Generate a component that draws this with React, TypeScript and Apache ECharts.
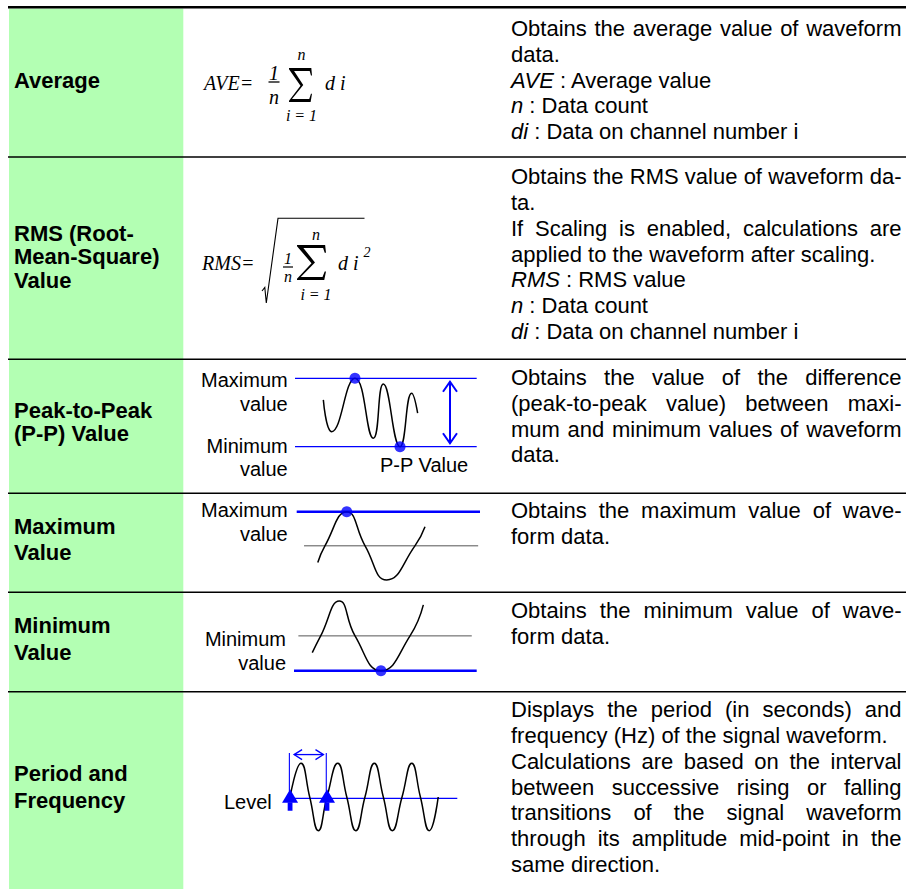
import React, { useEffect, useRef } from 'react';
import * as echarts from 'echarts';

const W = 906;
const H = 889;
const FONT = '"Liberation Sans", Arial, Helvetica, sans-serif';
const SERIF = '"Liberation Serif", "Times New Roman", serif';
const BLUE = '#0000ff';
const GREEN = '#b3ffb3';

// ---------- text content ----------
const rowLabels: string[][] = [
  ['Average'],
  ['RMS (Root-', 'Mean-Square)', 'Value'],
  ['Peak-to-Peak', '(P-P) Value'],
  ['Maximum', 'Value'],
  ['Minimum', 'Value'],
  ['Period and', 'Frequency'],
];

type DLine = { t: string; j?: boolean; it?: string };
const descAverage: DLine[] = [
  { t: 'Obtains the average value of waveform', j: true },
  { t: 'data.' },
  { it: 'AVE', t: ' : Average value' },
  { it: 'n', t: ' : Data count' },
  { it: 'di', t: ' : Data on channel number i' },
];
const descRms: DLine[] = [
  { t: 'Obtains the RMS value of waveform da-', j: true },
  { t: 'ta.' },
  { t: 'If Scaling is enabled, calculations are', j: true },
  { t: 'applied to the waveform after scaling.' },
  { it: 'RMS', t: ' : RMS value' },
  { it: 'n', t: ' : Data count' },
  { it: 'di', t: ' : Data on channel number i' },
];
const descPP: DLine[] = [
  { t: 'Obtains the value of the difference', j: true },
  { t: '(peak-to-peak value) between maxi-', j: true },
  { t: 'mum and minimum values of waveform', j: true },
  { t: 'data.' },
];
const descMax: DLine[] = [
  { t: 'Obtains the maximum value of wave-', j: true },
  { t: 'form data.' },
];
const descMin: DLine[] = [
  { t: 'Obtains the minimum value of wave-', j: true },
  { t: 'form data.' },
];
const descPeriod: DLine[] = [
  { t: 'Displays the period (in seconds) and', j: true },
  { t: 'frequency (Hz) of the signal waveform.' },
  { t: 'Calculations are based on the interval', j: true },
  { t: 'between successive rising or falling', j: true },
  { t: 'transitions of the signal waveform', j: true },
  { t: 'through its amplitude mid-point in the', j: true },
  { t: 'same direction.' },
];
const descriptions = [descAverage, descRms, descPP, descMax, descMin, descPeriod];

// ---------- waveform data (time units 0..10, amplitude units) ----------
const ppWave = [[1.56, 0.37], [2.02, -0.56], [3.3, 1], [4.31, -0.75], [4.86, 0.83], [5.78, -1], [6.42, 0.56], [6.75, -0.02]];
const ppPoints = [[3.3, 1], [5.78, -1]];
const ppLevels = [1, -1];
const ppSpan = [0.9, -0.9];
const ppArrowX = 8.53;

const maxWave = [[1.15, -0.49], [1.54, 0], [2.73, 1], [3.73, 0], [4.91, -1], [6.45, 0], [7.0, 0.56]];
const maxPoint = [[2.73, 1]];
const maxLevel = 1;
const maxMidRange = [0.4, 9.9];

const minWave = [[1.0, -0.48], [1.46, 0], [2.48, 1], [3.34, 0], [4.76, -1], [6.35, 0], [7.08, 0.89]];
const minPoint = [[4.76, -1]];
const minLevel = -1;
const minMidRange = [0.24, 9.73];

const periodWave = [[0.56, 0], [1.17, 1], [1.65, 0], [2.13, -1], [2.61, 0], [3.21, 1], [3.71, 0], [4.21, -1], [4.72, 0], [5.24, 1], [5.74, 0], [6.24, -1], [6.78, 0], [7.32, 1], [7.8, 0], [8.29, -1], [8.79, 0]];
const periodLevel = -0.04;
const periodLevelRange = [0.65, 9.85];

// ---------- layout ----------
const SEPARATORS = [157, 359.3, 493.3, 592.3, 691.7];
const LABEL_Y = [[80], [233.5, 256.8, 280.2], [410, 433.5], [526.5, 552.3], [625, 652], [773.3, 800.7]];
const DESC_BASE = [36, 184.3, 385, 518.3, 618.3, 717.3];
const DESC_STEP = 25.8;
const DESC_LEFT = 511;
const DESC_RIGHT = 901.5;

const GRIDS = [
  { left: 295, width: 181.7, top: 361.2, height: 102.6 },
  { left: 296.7, width: 183.3, top: 494.6, height: 102.45 },
  { left: 294, width: 182.7, top: 583.6, height: 104.55 },
  { left: 280, width: 180, top: 746.45, height: 101.1 },
];

const SIG = [[0, 0], [0.97, 0], [1, 0.22], [0.955, 0.22], [0.9, 0.085], [0.22, 0.085], [0.62, 0.5], [0.13, 0.915], [0.88, 0.915], [0.955, 0.76], [1, 0.76], [0.94, 1], [0, 1], [0, 0.965], [0.5, 0.52], [0, 0.035]];

function baseOption(): any {
  const waveStyle = { color: '#000', width: 1.5 };
  const line = (i: number, data: number[][]) => ({
    type: 'line', xAxisIndex: i, yAxisIndex: i, data, smooth: true, symbol: 'none',
    lineStyle: waveStyle, clip: false, silent: true, z: 4,
  });
  const dots = (i: number, data: number[][]) => ({
    type: 'scatter', xAxisIndex: i, yAxisIndex: i, data, symbolSize: 11,
    itemStyle: { color: BLUE }, clip: false, silent: true, z: 6,
  });
  return {
    animation: false,
    backgroundColor: '#fff',
    grid: GRIDS.map((g) => ({ ...g, containLabel: false, show: false })),
    xAxis: GRIDS.map((_, i) => ({ type: 'value', gridIndex: i, min: 0, max: 10, show: false })),
    yAxis: GRIDS.map((_, i) => ({ type: 'value', gridIndex: i, min: -1.5, max: 1.5, show: false })),
    series: [
      line(0, ppWave), dots(0, ppPoints),
      line(1, maxWave), dots(1, maxPoint),
      line(2, minWave), dots(2, minPoint),
      line(3, periodWave),
    ],
  };
}

function buildGraphic(chart: any): any[] {
  const els: any[] = [];
  const ctx = document.createElement('canvas').getContext('2d')!;
  const measure = (s: string, font: string) => { ctx.font = font; return ctx.measureText(s).width; };
  const px = (gi: number, x: number, y: number) => chart.convertToPixel({ gridIndex: gi }, [x, y]) as number[];

  const text = (x: number, y: number, t: string, o: any = {}) => ({
    type: 'text', x, y, z: 20, silent: true,
    style: { text: t, fill: '#000', fontSize: 22, fontFamily: FONT, align: 'left', verticalAlign: 'middle', ...o },
  });
  const seg = (x1: number, y1: number, x2: number, y2: number, stroke: string, w: number, z = 2) => ({
    type: 'line', z, silent: true, shape: { x1, y1, x2, y2 }, style: { stroke, lineWidth: w },
  });
  const poly = (pts: number[][], stroke: string, w: number) => ({
    type: 'polyline', z: 8, silent: true, shape: { points: pts }, style: { stroke, lineWidth: w, fill: null },
  });
  const fillPoly = (pts: number[][], fill: string) => ({
    type: 'polygon', z: 8, silent: true, shape: { points: pts }, style: { fill },
  });

  // table structure
  els.push({ type: 'rect', z: 0, silent: true, shape: { x: 9, y: 8.5, width: 174.3, height: H - 8.5 }, style: { fill: GREEN } });
  els.push(seg(8, 7.2, W, 7.2, '#000', 2.6));
  SEPARATORS.forEach((y) => els.push(seg(8, y, W, y, '#000', 1.4)));

  // row labels
  rowLabels.forEach((lines, r) => {
    lines.forEach((l, k) => els.push(text(14, LABEL_Y[r][k], l, { fontWeight: 'bold' })));
  });

  // descriptions
  const normFont = `22px ${FONT}`;
  const itFont = `italic 22px ${FONT}`;
  descriptions.forEach((lines, r) => {
    lines.forEach((ln, k) => {
      const y = DESC_BASE[r] + k * DESC_STEP - 7.6;
      if (ln.it) {
        els.push(text(DESC_LEFT, y, ln.it, { fontStyle: 'italic' }));
        const w = measure(ln.it, itFont);
        els.push(text(DESC_LEFT + w, y, ln.t));
      } else if (ln.j) {
        const words = ln.t.split(' ');
        const widths = words.map((w) => measure(w, normFont));
        const total = widths.reduce((a, b) => a + b, 0);
        const gap = (DESC_RIGHT - DESC_LEFT - total) / (words.length - 1);
        let x = DESC_LEFT;
        words.forEach((w, i) => { els.push(text(x, y, w)); x += widths[i] + gap; });
      } else {
        els.push(text(DESC_LEFT, y, ln.t));
      }
    });
  });

  // ---- formulas ----
  const ser = (x: number, y: number, t: string, size: number, align = 'left') =>
    text(x, y, t, { fontFamily: SERIF, fontStyle: 'italic', fontSize: size, align });
  const sigma = (x: number, y: number, w: number, h: number) => fillPoly(SIG.map(([a, b]) => [x + a * w, y + b * h]), '#000');

  // AVE
  els.push(ser(204, 82.5, 'AVE=', 20));
  els.push(ser(274, 73.2, '1', 20, 'center'));
  els.push(seg(268.5, 82, 279.5, 82, '#000', 1.3, 8));
  els.push(ser(274, 97.2, 'n', 20, 'center'));
  els.push(sigma(289, 68, 23, 34));
  els.push(ser(301.5, 54.6, 'n', 16, 'center'));
  els.push(ser(301.5, 115.6, 'i = 1', 16, 'center'));
  els.push(ser(325, 82.5, 'd i', 20));

  // RMS
  els.push(ser(202, 263.3, 'RMS=', 20));
  els.push(ser(288, 258.6, '1', 16, 'center'));
  els.push(seg(283, 267, 293, 267, '#000', 1.2, 8));
  els.push(ser(288, 276.6, 'n', 16, 'center'));
  els.push(sigma(297, 245, 29, 35));
  els.push(ser(316, 234.6, 'n', 16, 'center'));
  els.push(ser(316, 294.6, 'i = 1', 16, 'center'));
  els.push(ser(338, 263.3, 'd i', 20));
  els.push(ser(363.5, 252.3, '2', 14));
  els.push(poly([[262, 291], [264.8, 287.5], [266.3, 303], [278, 218.3], [364.5, 218.3]], '#000', 1.1));

  // ---- P-P diagram ----
  ppLevels.forEach((lv) => {
    const a = px(0, 0, lv), b = px(0, 10, lv);
    els.push(seg(a[0], a[1], b[0], b[1], BLUE, 1.3, 3));
  });
  {
    const t = px(0, ppArrowX, ppSpan[0]), u = px(0, ppArrowX, ppSpan[1]);
    els.push(seg(t[0], t[1], u[0], u[1], BLUE, 2, 8));
    els.push(poly([[t[0] - 7, t[1] + 10], [t[0], t[1]], [t[0] + 7, t[1] + 10]], BLUE, 2));
    els.push(poly([[u[0] - 7, u[1] - 10], [u[0], u[1]], [u[0] + 7, u[1] - 10]], BLUE, 2));
  }
  els.push(text(287.7, 380, 'Maximum', { fontSize: 20, align: 'right' }));
  els.push(text(287.7, 404, 'value', { fontSize: 20, align: 'right' }));
  els.push(text(287.7, 445.7, 'Minimum', { fontSize: 20, align: 'right' }));
  els.push(text(287.7, 469, 'value', { fontSize: 20, align: 'right' }));
  els.push(text(380, 465, 'P-P Value', { fontSize: 20 }));

  // ---- Max diagram ----
  {
    const a = px(1, 0, maxLevel), b = px(1, 10, maxLevel);
    els.push(seg(a[0], a[1], b[0], b[1], BLUE, 2.6, 3));
    const c = px(1, maxMidRange[0], 0), d = px(1, maxMidRange[1], 0);
    els.push(seg(c[0], c[1], d[0], d[1], '#555', 1, 3));
  }
  els.push(text(287.7, 510, 'Maximum', { fontSize: 20, align: 'right' }));
  els.push(text(287.7, 534, 'value', { fontSize: 20, align: 'right' }));

  // ---- Min diagram ----
  {
    const a = px(2, 0, minLevel), b = px(2, 10, minLevel);
    els.push(seg(a[0], a[1], b[0], b[1], BLUE, 2.6, 3));
    const c = px(2, minMidRange[0], 0), d = px(2, minMidRange[1], 0);
    els.push(seg(c[0], c[1], d[0], d[1], '#555', 1, 3));
  }
  els.push(text(286, 639.3, 'Minimum', { fontSize: 20, align: 'right' }));
  els.push(text(286, 663.3, 'value', { fontSize: 20, align: 'right' }));

  // ---- Period diagram ----
  {
    const a = px(3, periodLevelRange[0], periodLevel), b = px(3, periodLevelRange[1], periodLevel);
    els.push(seg(a[0], a[1], b[0], b[1], BLUE, 1.3, 3));
    const xs = [periodWave[0][0], periodWave[4][0]].map((x) => px(3, x, periodLevel));
    const topY = px(3, 0, 1.25)[1];
    xs.forEach((p) => {
      const tipY = p[1] - 9;
      els.push(seg(p[0] - 0.7, topY - 2, p[0] - 0.7, tipY + 2, BLUE, 1.1, 8));
      els.push(fillPoly([[p[0], tipY], [p[0] - 8, tipY + 13.4], [p[0] + 8, tipY + 13.4]], BLUE));
      els.push({ type: 'rect', z: 8, silent: true, shape: { x: p[0] - 2.4, y: tipY + 13, width: 4.8, height: 8.4 }, style: { fill: BLUE } });
    });
    const ay = topY - 0.3;
    const l = xs[0][0] + 4, r = xs[1][0] - 3.5;
    els.push(seg(l, ay, r, ay, BLUE, 1.3, 8));
    els.push(poly([[l + 8, ay - 5], [l, ay], [l + 8, ay + 5]], BLUE, 1.3));
    els.push(poly([[r - 8, ay - 5], [r, ay], [r - 8, ay + 5]], BLUE, 1.3));
  }
  els.push(text(271.7, 801.7, 'Level', { fontSize: 20, align: 'right' }));

  return els;
}

export default function App() {
  const ref = useRef<HTMLDivElement>(null);
  useEffect(() => {
    if (!ref.current) return;
    const chart = echarts.init(ref.current, null, { renderer: 'svg', width: W, height: H });
    chart.setOption(baseOption());
    chart.setOption({ graphic: { elements: buildGraphic(chart) } });
    return () => chart.dispose();
  }, []);
  return <div ref={ref} style={{ position: 'absolute', left: 0, top: 0, width: W, height: H }} />;
}
